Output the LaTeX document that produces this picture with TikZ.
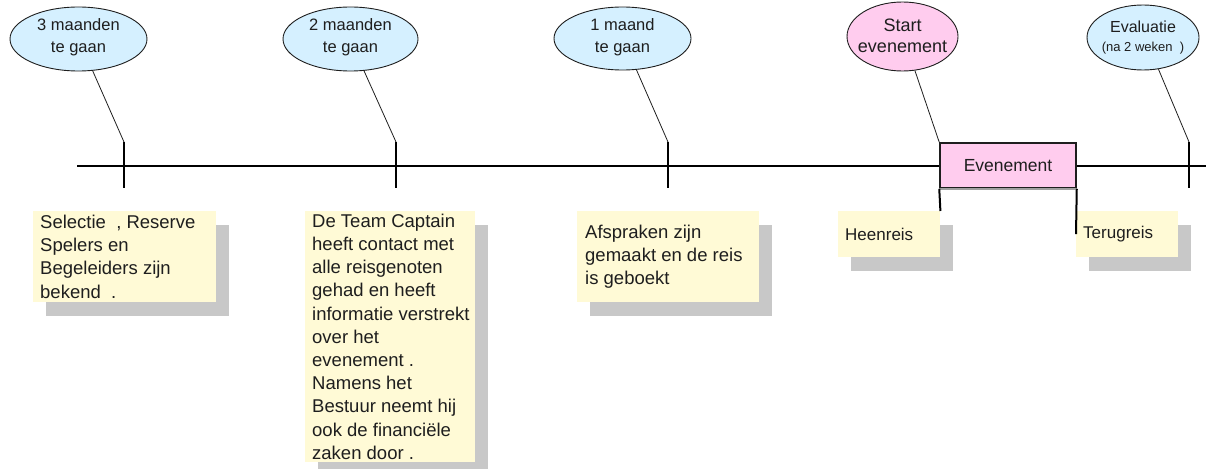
\documentclass[tikz,border=0pt]{standalone}
\usepackage{fontspec}
\setmainfont{Liberation Sans}
\usetikzlibrary{shapes.geometric,shadows}
\definecolor{bluefill}{HTML}{D5F0FF}
\definecolor{pinkfill}{HTML}{FFCCEE}
\definecolor{notefill}{HTML}{FFFAD6}
\definecolor{shadowgray}{HTML}{C8C8C8}
\definecolor{ink}{HTML}{1E1E1E}
\definecolor{evbottom}{HTML}{A0A0A0}
\begin{document}
\begin{tikzpicture}[x=1pt,y=-1pt,
  every node/.style={text=ink},
  bubble/.style={ellipse, draw=ink, line width=0.9pt, inner sep=0pt},
  bubbletext/.style={align=center, inner sep=0pt, font=\fontsize{16.5}{22}\selectfont},
  stem/.style={draw=ink, line width=0.8pt},
  axis/.style={draw=black, line width=2pt},
  notebox/.style={rectangle, fill=notefill, inner sep=0pt, anchor=north west,
    drop shadow={shadow xshift=13pt, shadow yshift=-14pt, fill=shadowgray, opacity=1}},
  notetext/.style={align=left, inner sep=0pt, anchor=west, font=\fontsize{18.5}{23.2}\selectfont},
  shorttext/.style={align=left, inner sep=0pt, anchor=west, font=\fontsize{17}{20}\selectfont},
  evbox/.style={rectangle, fill=pinkfill, draw=ink, line width=1.5pt, inner sep=0pt,
    font=\fontsize{17.5}{20}\selectfont},
]
\useasboundingbox (0,0) rectangle (1206,468);

% timeline
\coordinate (tlL) at (77,166);
\coordinate (tlR) at (1206,166);
\draw[axis] (tlL) -- (tlR);

% tick coordinates
\coordinate (t1a) at (124,142); \coordinate (t1b) at (124,188);
\coordinate (t2a) at (396,142); \coordinate (t2b) at (396,188);
\coordinate (t3a) at (668,142); \coordinate (t3b) at (668,188);
\coordinate (t5a) at (1189,142); \coordinate (t5b) at (1189,188);
\draw[axis] (t1a) -- (t1b);
\draw[axis] (t2a) -- (t2b);
\draw[axis] (t3a) -- (t3b);
\draw[axis] (t5a) -- (t5b);

% event box
\node[evbox, minimum width=136pt, minimum height=45pt] (ev) at (1008,165.5) {Evenement};
\draw[draw=evbottom, line width=1.5pt] (ev.south west) -- (ev.south east);

% bubbles
\node[bubble, fill=bluefill, minimum width=137pt, minimum height=64pt] (e1) at (78.5,39) {};
\node[bubbletext] (e1t) at (78.5,37) {3 maanden\\te gaan};
\node[bubble, fill=bluefill, minimum width=135pt, minimum height=64pt] (e2) at (350.5,39) {};
\node[bubbletext] (e2t) at (350.5,37) {2 maanden\\te gaan};
\node[bubble, fill=bluefill, minimum width=137pt, minimum height=63pt] (e3) at (622.5,38.5) {};
\node[bubbletext] (e3t) at (622.5,37) {1 maand\\te gaan};
\node[bubble, fill=pinkfill, minimum width=111pt, minimum height=69pt] (e4) at (902.5,36.5) {};
\node[bubbletext, font=\fontsize{18}{21}\selectfont] (e4t) at (902.5,35.5) {Start\\evenement};
\node[bubble, fill=bluefill, minimum width=112pt, minimum height=65pt] (e5) at (1143,37.5) {};
\node[bubbletext, font=\fontsize{16}{19}\selectfont] (e5t) at (1143,37.5) {Evaluatie\\{\fontsize{13}{15}\selectfont(na 2 weken\ \ )}};

% stems
\draw[stem] (e1.-66) -- (t1a);
\draw[stem] (e2.-67) -- (t2a);
\draw[stem] (e3.-66) -- (t3a);
\draw[stem] (e4.-70) -- (ev.north west);
\draw[stem] (e5.-64) -- (t5a);

% notes
\node[notebox, minimum width=183pt, minimum height=91pt] (n1) at (33,211) {};
\node[notetext] (n1t) at ([xshift=7pt]n1.west) {Selectie\ \ , Reserve\\Spelers en\\Begeleiders zijn\\bekend\ \ .};

\node[notebox, minimum width=170pt, minimum height=251pt] (n2) at (305,211) {};
\node[notetext] (n2t) at ([xshift=7pt]n2.west) {De Team Captain\\heeft contact met\\alle reisgenoten\\gehad en heeft\\informatie verstrekt\\over het\\evenement .\\Namens het\\Bestuur neemt hij\\ook de financiële\\zaken door .};

\node[notebox, minimum width=182pt, minimum height=91pt] (n3) at (577,211) {};
\node[notetext] (n3t) at ([xshift=8pt]n3.west) {Afspraken zijn\\gemaakt en de reis\\is geboekt};

\node[notebox, minimum width=102pt, minimum height=46pt] (nh) at (838,211) {};
\node[shorttext] (nht) at ([xshift=7pt]nh.west) {Heenreis};

\node[notebox, minimum width=102pt, minimum height=46pt] (nt) at (1076,211) {};
\node[shorttext] (ntt) at ([xshift=7pt]nt.west) {Terugreis};

% event legs
\draw[axis] (ev.south west) -- (nh.north east);
\draw[axis] (ev.south east) -- (nt.west);
\end{tikzpicture}
\end{document}
